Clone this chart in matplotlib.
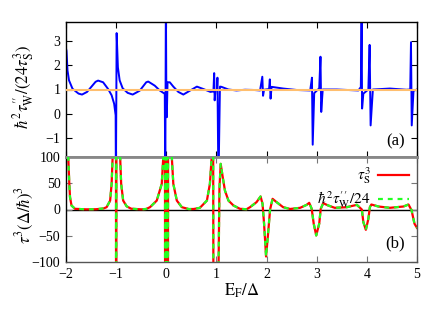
import numpy as np
import matplotlib
matplotlib.use("Agg")
import matplotlib.pyplot as plt

plt.rcParams["font.family"] = ["Liberation Serif", "DejaVu Serif"]
plt.rcParams["mathtext.fontset"] = "stix"

# panel (a): hbar^2 tau_W'' / (24 tau_S^3)
top_x = [-2.00, -1.99, -1.97, -1.94, -1.87, -1.75, -1.68, -1.58, -1.41, -1.36,
         -1.26, -1.16, -1.09, -1.04, -1.01, -1.005, -0.99, -0.965, -0.93, -0.87,
         -0.77, -0.67, -0.53, -0.40, -0.36, -0.23, -0.13, -0.03, -0.02, -0.008,
         0.0, 0.01, 0.025, 0.07, 0.14, 0.24, 0.34, 0.47, 0.61, 0.74,
         0.88, 0.94, 0.955, 0.965, 0.98, 1.01, 1.02, 1.04, 1.07, 1.10,
         1.24, 1.40, 1.57, 1.75, 1.87, 1.915, 1.93, 1.95, 2.05, 2.065,
         2.08, 2.10, 2.33, 2.60, 2.87, 2.905, 2.92, 2.95, 3.05, 3.075,
         3.09, 3.12, 3.40, 3.83, 3.88, 3.895, 3.905, 3.93, 4.03, 4.055,
         4.075, 4.12, 4.46, 4.79, 4.865, 4.88, 4.895, 4.93, 5.00]
top_y = [2.70, 2.60, 1.79, 1.38, 1.03, 0.83, 0.79, 0.90, 1.32, 1.37,
         1.30, 1.02, 0.76, 0.41, -0.07, -3.0, 3.34, 1.92, 1.38, 1.05,
         0.86, 0.79, 0.95, 1.30, 1.33, 1.16, 0.96, 0.82, -3.0, 5.0,
         1.20, -0.15, 1.30, 1.30, 1.12, 0.90, 0.79, 0.95, 1.12, 1.02,
         0.90, 0.92, 1.68, 0.55, 0.95, 1.00, 1.49, -3.0, 1.12, 1.11,
         1.00, 0.96, 0.99, 0.98, 0.96, 1.53, 0.74, 0.99, 1.02, 1.42,
         0.62, 1.11, 1.04, 0.98, 0.96, 1.49, -1.29, 0.85, 1.05, 2.36,
         0.07, 1.00, 1.00, 0.96, 1.10, 4.00, 0.21, 0.83, 1.00, 2.85,
         -0.49, 1.00, 1.04, 0.99, 1.00, 2.96, -0.49, 0.95, 1.00]

# panel (b): tau_S^3 and hbar^2 tau_W''/24 (same curve)
bot_x = [-2.00, -1.955, -1.934, -1.92, -1.89, -1.82, -1.60, -1.40, -1.25, -1.19,
         -1.12, -1.09, -1.07, -1.03, -1.005, -1.00, -0.995, -0.96, -0.92, -0.90,
         -0.86, -0.79, -0.70, -0.50, -0.40, -0.325, -0.19, -0.09, -0.06, -0.03,
         -0.02, -0.01, 0.00, 0.015, 0.03, 0.04, 0.08, 0.11, 0.14, 0.21,
         0.31, 0.45, 0.55, 0.67, 0.81, 0.87, 0.905, 0.93, 0.955, 0.98,
         1.02, 1.06, 1.085, 1.125, 1.17, 1.24, 1.34, 1.47, 1.60, 1.67,
         1.80, 1.88, 1.92, 1.95, 1.99, 2.03, 2.07, 2.12, 2.20, 2.33,
         2.47, 2.67, 2.80, 2.85, 2.90, 2.94, 2.99, 3.05, 3.08, 3.13,
         3.23, 3.36, 3.60, 3.80, 3.90, 3.93, 3.98, 4.03, 4.06, 4.09,
         4.23, 4.46, 4.73, 4.83, 4.89, 4.95, 5.00]
bot_y = [400, 100, 49, 23.5, 7.6, 1.3, 0.3, 0.5, 2.0, 4.4,
         17, 49, 100, 400, 1000, -1000, 1000, 400, 100, 49,
         17, 6, 1.5, 0.3, 1.0, 4.4, 17, 49, 100, 1000,
         -1000, 1000, -1000, 1000, -1000, 1000, 400, 100, 49, 17,
         4.4, 0.8, 1.0, 3.2, 17, 49, 100, 400, -1000, -300,
         -300, 40, 87, 62, 36, 17, 7.6, 1.3, 0.5, 4.4,
         14, 24.8, 10.8, -27, -89.5, -46, 0, 20.3, 14, 4.4,
         1.0, 3.2, 8.9, 12.7, 1.3, -27, -49.5, -27, 1.3, 12,
         7.6, 3.2, 4.4, 8.9, 0, -24, -38.7, -17.8, 4.4, 9.5,
         5.7, 3.2, 5.7, 9.5, -1, -27, -35]

x_ticks = [-2, -1, 0, 1, 2, 3, 4, 5]
top_ticks = [-1, 0, 1, 2, 3]
bot_ticks = [-100, -50, 0, 50, 100]

fig = plt.figure(figsize=(4.36, 3.14), dpi=100)
ax1 = fig.add_axes([66/436, 157/314, 351/436, 135/314])
ax2 = fig.add_axes([66/436, 52/314, 351/436, 105/314])

# top panel
ax1.plot(top_x, top_y, color="#0000ff", lw=1.4, zorder=2)
ax1.axhline(1.0, color="#ffbe6e", lw=1.5, zorder=3)
ax1.set_xlim(-2, 5)
ax1.set_ylim(-1.8, 3.8)
ax1.set_xticks(x_ticks)
ax1.set_xticklabels([])
ax1.set_yticks(top_ticks)
ax1.set_ylabel(r"$\hbar^2\tau_{\rm W}^{\prime\prime}/(24\tau_{\rm S}^3)$", fontsize=12)
ax1.yaxis.set_label_coords(-0.085, 0.52)
ax1.text(0.965, 0.06, "(a)", transform=ax1.transAxes, ha="right", va="bottom", fontsize=12)

# bottom panel
ax2.plot(bot_x, bot_y, color="#ff0000", lw=1.6, label=r"$\tau_{\rm S}^3$", zorder=2)
ax2.plot(bot_x, bot_y, color="#22ff22", lw=1.6, ls=(0, (2.2, 2.2)),
         label=r"$\hbar^2\tau_{\rm W}^{\prime\prime}/24$", zorder=3)
ax2.axhline(0, color="black", lw=1.0, zorder=1)
ax2.set_xlim(-2, 5)
ax2.set_ylim(-100, 100)
ax2.set_xticks(x_ticks)
ax2.set_yticks(bot_ticks)
ax2.set_xlabel(r"$\mathrm{E_F}/\Delta$", fontsize=12)
ax2.xaxis.set_label_coords(0.5, -0.19)
ax2.set_ylabel(r"$\tau^3(\Delta/\hbar)^3$", fontsize=12)
ax2.yaxis.set_label_coords(-0.085, 0.45)
ax2.text(0.965, 0.1, "(b)", transform=ax2.transAxes, ha="right", va="bottom", fontsize=12)
ax2.legend(loc="upper right", markerfirst=False, frameon=False, fontsize=11,
           handlelength=2.0, borderaxespad=0.15, labelspacing=0.2, handletextpad=0.5)

for ax in (ax1, ax2):
    ax.tick_params(direction="in", length=4, width=0.8, top=True, right=True,
                   labelsize=10, pad=4)
    for s in ax.spines.values():
        s.set_linewidth(1.0)
ax1.spines["bottom"].set_color("#888888")
ax1.spines["bottom"].set_linewidth(2)
ax2.spines["top"].set_color("#888888")
ax2.spines["top"].set_linewidth(2)
ax2.spines["bottom"].set_color("#555555")
ax2.spines["right"].set_color("#555555")
ax2.tick_params(color="#777777")

fig.savefig("out.png", dpi=100)
